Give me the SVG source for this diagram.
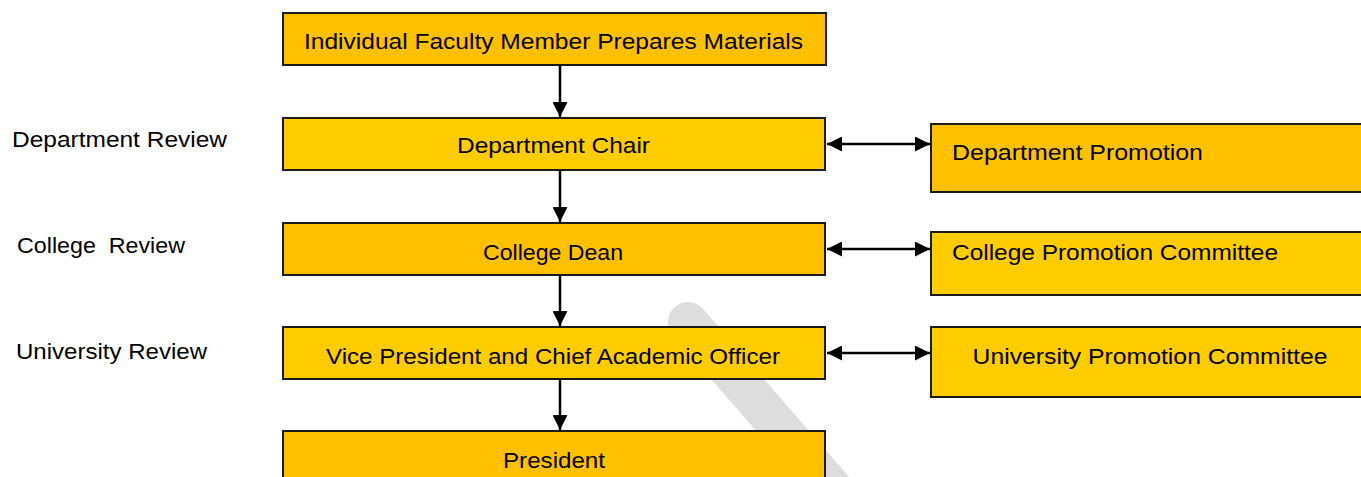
<svg xmlns="http://www.w3.org/2000/svg" width="1361" height="477" viewBox="0 0 1361 477">
<style>
.box{stroke:#1a1a1a;stroke-width:2}
.o{fill:#FFC000}
.y{fill:#FFCC00}
.t{font-family:"Liberation Sans",Arial,sans-serif;font-size:22px;fill:#000}
.c{text-anchor:middle}
.con{stroke:#000;stroke-width:2.5;fill:none}
</style>
<defs>
<marker id="ah" viewBox="0 0 10 10" refX="10" refY="5" markerWidth="6" markerHeight="6" orient="auto-start-reverse" markerUnits="strokeWidth">
<path d="M0,0 L10,5 L0,10 z" fill="#000"/>
</marker>
</defs>
<rect width="1361" height="477" fill="#fff"/>
<line x1="688" y1="322" x2="860" y2="520" stroke="#DDDDDD" stroke-width="40" stroke-linecap="round"/>
<g id="label-dept"><text class="t" x="12" y="147" textLength="215" lengthAdjust="spacingAndGlyphs">Department Review</text></g>
<g id="label-college"><text class="t" x="17" y="253" textLength="168" lengthAdjust="spacingAndGlyphs" xml:space="preserve">College  Review</text></g>
<g id="label-univ"><text class="t" x="16" y="359" textLength="191" lengthAdjust="spacingAndGlyphs">University Review</text></g>
<g id="faculty"><rect class="box o" x="283" y="13" width="543" height="52"/><text class="t c" x="553.5" y="49" textLength="499" lengthAdjust="spacingAndGlyphs">Individual Faculty Member Prepares Materials</text></g>
<g id="chair"><rect class="box y" x="283" y="118" width="542" height="52"/><text class="t c" x="553.5" y="153" textLength="193" lengthAdjust="spacingAndGlyphs">Department Chair</text></g>
<g id="dean"><rect class="box o" x="283" y="223" width="542" height="52"/><text class="t c" x="553" y="260" textLength="140" lengthAdjust="spacingAndGlyphs">College Dean</text></g>
<g id="vp"><rect class="box y" x="283" y="327" width="542" height="52"/><text class="t c" x="553" y="364" textLength="454" lengthAdjust="spacingAndGlyphs">Vice President and Chief Academic Officer</text></g>
<g id="president"><rect class="box o" x="283" y="431" width="542" height="60"/><text class="t c" x="554" y="468" textLength="102" lengthAdjust="spacingAndGlyphs">President</text></g>
<g id="dept-promo"><rect class="box o" x="931" y="124" width="440" height="68"/><text class="t" x="952" y="160" textLength="251" lengthAdjust="spacingAndGlyphs">Department Promotion</text></g>
<g id="college-promo"><rect class="box y" x="931" y="232" width="440" height="63"/><text class="t" x="952" y="260" textLength="326" lengthAdjust="spacingAndGlyphs">College Promotion Committee</text></g>
<g id="univ-promo"><rect class="box y" x="931" y="327" width="440" height="70"/><text class="t c" x="1150" y="364" textLength="355" lengthAdjust="spacingAndGlyphs">University Promotion Committee</text></g>
<g id="connectors">
<line class="con" x1="560" y1="65" x2="560" y2="117" marker-end="url(#ah)"/>
<line class="con" x1="560" y1="170" x2="560" y2="222" marker-end="url(#ah)"/>
<line class="con" x1="560" y1="275" x2="560" y2="326" marker-end="url(#ah)"/>
<line class="con" x1="560" y1="379" x2="560" y2="430" marker-end="url(#ah)"/>
<line class="con" x1="827" y1="144" x2="930" y2="144" marker-start="url(#ah)" marker-end="url(#ah)"/>
<line class="con" x1="827" y1="249" x2="930" y2="249" marker-start="url(#ah)" marker-end="url(#ah)"/>
<line class="con" x1="827" y1="353" x2="930" y2="353" marker-start="url(#ah)" marker-end="url(#ah)"/>
</g>
</svg>
